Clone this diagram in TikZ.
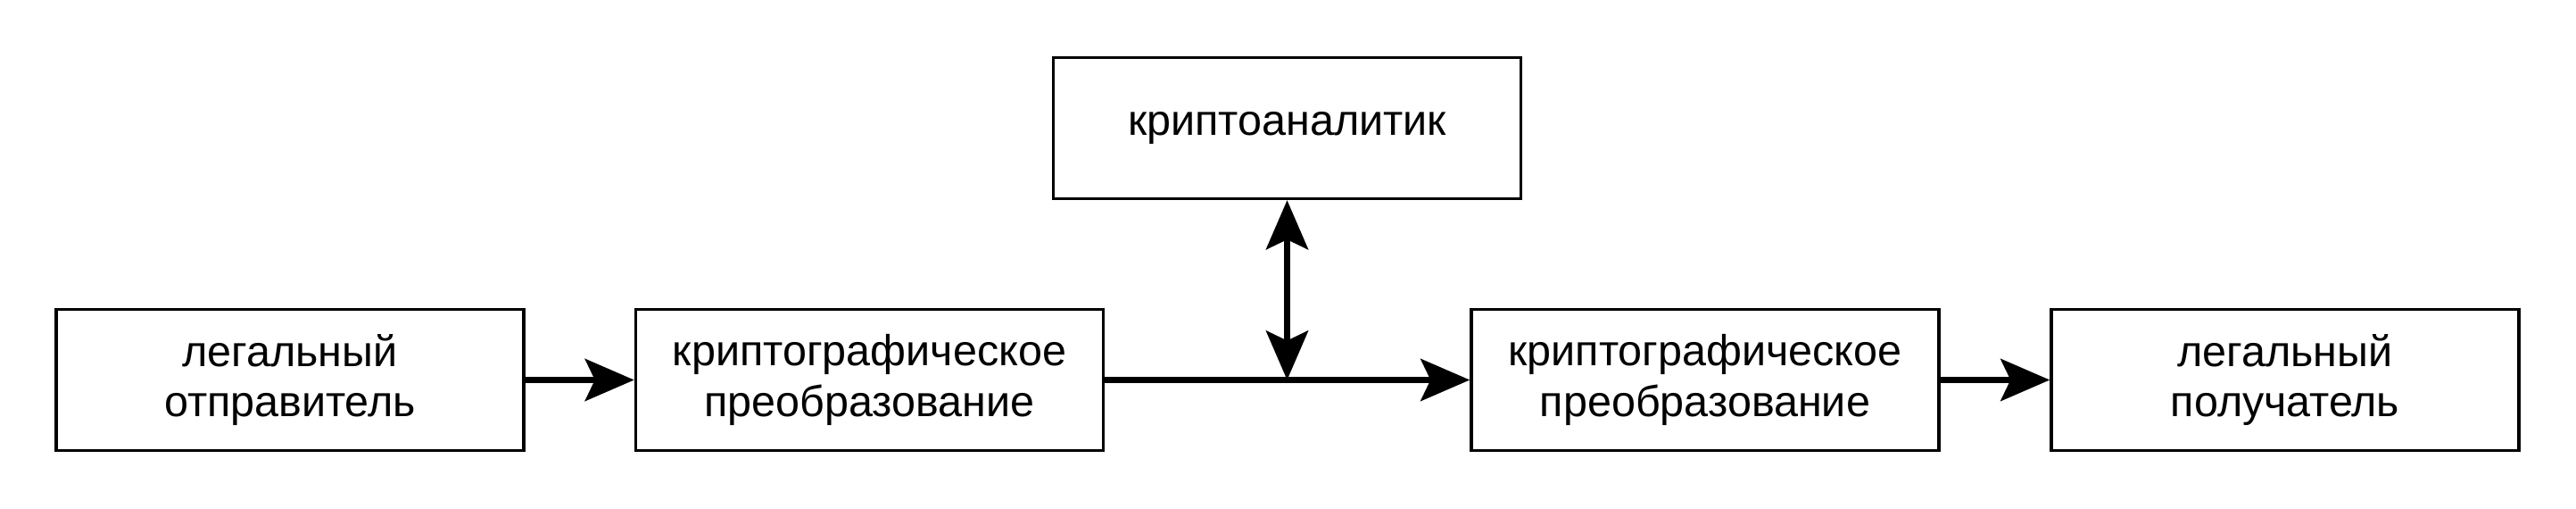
\documentclass[tikz,border=0pt]{standalone}
\usepackage{fontspec}
\setmainfont{Liberation Sans}
\usetikzlibrary{arrows.meta}
\begin{document}
\begin{tikzpicture}[
  blok/.style={draw, line width=1pt, minimum width=5.24cm, minimum height=1.58cm,
    inner sep=0pt, align=center, font=\fontsize{13.8}{16}\selectfont},
  strelka/.style={line width=2pt, -{Stealth[length=0.55cm, width=0.47cm, inset=0.11cm]}},
  dvustr/.style={line width=2pt, {Stealth[length=0.55cm, width=0.47cm, inset=0.11cm]}-{Stealth[length=0.55cm, width=0.47cm, inset=0.11cm]}}
]
  \useasboundingbox (0,0) rectangle (28.87,-5.70);
  \node[blok] (otpr) at (3.25,-4.255) {легальный\\отправитель};
  \node[blok] (preob1) at (9.745,-4.255) {криптографическое\\преобразование};
  \node[blok] (analit) at (14.425,-1.435) {криптоаналитик};
  \node[blok] (preob2) at (19.11,-4.255) {криптографическое\\преобразование};
  \node[blok] (poluch) at (25.61,-4.255) {легальный\\получатель};
  \coordinate (kanal) at (analit.south |- preob1.east);
  % stream of the message
  \draw[strelka] (otpr) -- (preob1);
  \draw[strelka] (preob1) -- (preob2);
  \draw[strelka] (preob2) -- (poluch);
  % interception
  \draw[dvustr] (kanal) -- (analit);
\end{tikzpicture}
\end{document}
